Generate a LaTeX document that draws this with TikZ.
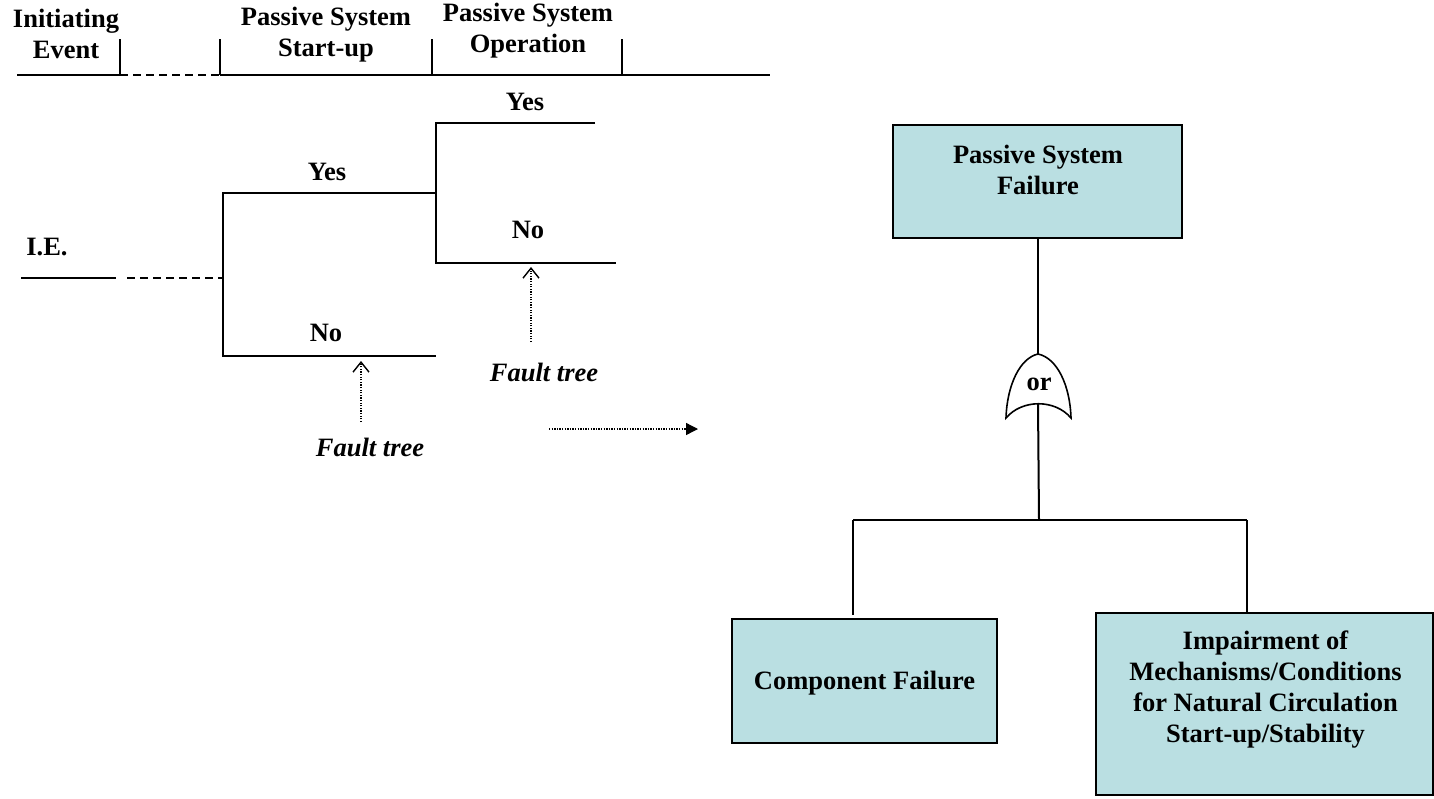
\documentclass[tikz,border=0pt]{standalone}
\usepackage{fontspec}
\setmainfont{Liberation Serif}
\usetikzlibrary{arrows.meta}
\definecolor{boxfill}{RGB}{186,223,226}
\begin{document}
\begin{tikzpicture}[x=1pt,y=-1pt, line width=2pt,
  lbl/.style={font=\fontsize{26.5}{31}\selectfont\bfseries, align=center, inner sep=0pt},
  ftlbl/.style={font=\fontsize{26.5}{31}\selectfont\bfseries\itshape, inner sep=0pt},
  fbox/.style={draw, fill=boxfill, line width=2.6pt, inner sep=0pt},
  dashln/.style={dash pattern=on 8pt off 5pt},
  dotarrow/.style={line width=1.3pt, dash pattern=on 1.3pt off 1.3pt, -{Straight Barb[length=10pt,width=16pt,line width=1.4pt]}},
  dotarrowh/.style={line width=1.3pt, dash pattern=on 1.3pt off 1.3pt, -{Triangle[length=12pt,width=12pt]}},
]
\useasboundingbox (0,0) rectangle (1434,798);

% ---------- header ----------
\node[lbl] (hIE) at (66,34) {Initiating\\Event};
\node[lbl] (hSU) at (326,35) {Passive System\\Start-up};
\node[lbl] (hOP) at (528,31) {Passive System\\Operation};
\coordinate (h0) at (17,75);
\coordinate (h1) at (120,75);
\coordinate (h2) at (220,75);
\coordinate (h3) at (432,75);
\coordinate (h4) at (622,75);
\coordinate (h5) at (770,75);
\draw (h0) -- (h1);
\draw[dashln] (h1) -- (h2);
\draw (h2) -- (h5);
\draw (h1) -- ++(0,-36);
\draw (h2) -- ++(0,-36);
\draw (h3) -- ++(0,-36);
\draw (h4) -- ++(0,-36);

% ---------- event tree ----------
\node[lbl] (ie) at (47,247) {I.E.};
\coordinate (ie0) at (21,278);
\coordinate (ie1) at (116,278);
\coordinate (ie2) at (127,278);
\coordinate (b1) at (223,278);
\draw (ie0) -- (ie1);
\draw[dashln] (ie2) -- (b1);
\coordinate (b1y) at (223,193);
\coordinate (b1n) at (223,356);
\coordinate (y1e) at (436,193);
\coordinate (n1e) at (436,356);
\draw (y1e) -- (b1y) -- (b1n) -- (n1e);
\coordinate (b2y) at (436,123);
\coordinate (b2n) at (436,263);
\coordinate (y2e) at (595,123);
\coordinate (n2e) at (616,263);
\draw (y2e) -- (b2y) -- (b2n) -- (n2e);
\node[lbl] (yes1) at (327,172) {Yes};
\node[lbl] (no1) at (326,333) {No};
\node[lbl] (yes2) at (525,102) {Yes};
\node[lbl] (no2) at (528,230) {No};

\node[ftlbl] (ft1) at (544,372) {Fault tree};
\node[ftlbl] (ft2) at (370,447) {Fault tree};
\coordinate (a1s) at (531,342);
\coordinate (a1e) at (531,267);
\coordinate (a2s) at (361,422);
\coordinate (a2e) at (361,361);
\draw[dotarrow] (a1s) -- (a1e);
\draw[dotarrow] (a2s) -- (a2e);
\coordinate (a3s) at (549,429);
\coordinate (a3e) at (698,429);
\draw[dotarrowh] (a3s) -- (a3e);

% ---------- fault tree ----------
\node[fbox, minimum width=289pt, minimum height=113pt] (top) at (1037.5,181.5) {};
\node[lbl] (toptxt) at (1038,170) {Passive System\\Failure};

\coordinate (gapex) at (1038,354);
\coordinate (gl) at (1006,418);
\coordinate (gr) at (1071,418);
\coordinate (gbot) at (1038,404);
\draw[line width=1.6pt] (gl) .. controls (1007,385) and (1020,358) .. (gapex)
   .. controls (1057,358) and (1070,385) .. (gr)
   .. controls (1055,399) and (1022,399) .. (gl) -- cycle;
\node[lbl] (orlbl) at (1039,384) {or};
\coordinate (topb) at (1038,238);
\draw (topb) -- (gapex);

\coordinate (busM) at (1039,520);
\coordinate (busL) at (853,520);
\coordinate (busR) at (1247,520);
\coordinate (cL) at (853,615);
\coordinate (cR) at (1247,613);
\draw (gbot) -- (busM);
\draw (busL) -- (busR);
\draw (busL) -- (cL);
\draw (busR) -- (cR);

\node[fbox, minimum width=265pt, minimum height=124pt] (comp) at (864.5,681) {};
\node[lbl] (comptxt) at (864.5,683) {Component Failure};
\node[fbox, minimum width=337pt, minimum height=182pt] (imp) at (1264.5,704) {};
\node[lbl] (imptxt) at (1265.5,690) {Impairment of\\Mechanisms/Conditions\\for Natural Circulation\\Start-up/Stability};
\end{tikzpicture}
\end{document}
